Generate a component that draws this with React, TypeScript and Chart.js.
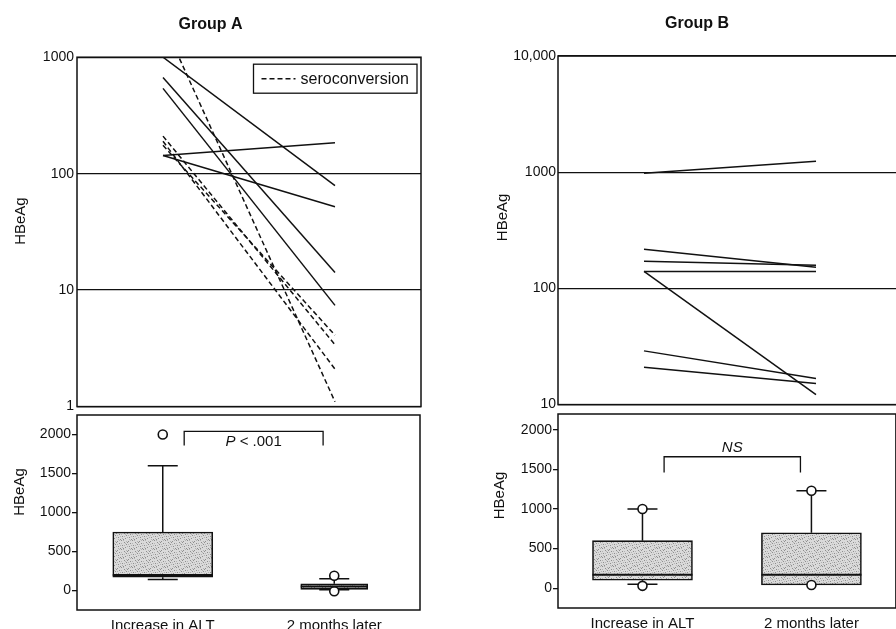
import React, { useEffect, useRef } from 'react';
import { Chart, registerables } from 'chart.js';

Chart.register(...registerables);

const FONT = '"Liberation Sans", Arial, Helvetica, sans-serif';
const INK = '#111111';

// ---------- data ----------
const timePoints = [1, 3];
const categories = ['Increase in ALT', '2 months later'];

// Group A: HBeAg at ALT increase and 2 months later (log panel)
const groupAStart = [1000, 670, 540, 143, 143, 2000, 210, 190, 175];
const groupAEnd = [79, 14.2, 7.4, 184, 52, 1.1, 3.4, 2.1, 4.1];
const groupASero = [false, false, false, false, false, true, true, true, true];

// Group B (log panel)
const groupBStart = [980, 217, 171, 140, 140, 29, 21];
const groupBEnd = [1240, 152, 158, 140, 12.2, 16.8, 15.2];

const logTicksA = [1, 10, 100, 1000];
const logTickLabelsA = ['1', '10', '100', '1000'];
const logTicksB = [10, 100, 1000, 10000];
const logTickLabelsB = ['10', '100', '1000', '10,000'];
const boxTicks = [0, 500, 1000, 1500, 2000];

// Box plot statistics (per time point)
const boxAMin = [140, 10];
const boxAQ1 = [170, 15];
const boxAMedian = [200, 50];
const boxAQ3 = [750, 85];
const boxAMax = [1600, 150];
const boxAPoints = [[2000], [190, -10]];

const boxBMin = [50, 40];
const boxBQ1 = [100, 40];
const boxBMedian = [170, 170];
const boxBQ3 = [600, 700];
const boxBMax = [1000, 1230];
const boxBPoints = [[1000, 30], [1230, 40]];

// ---------- plugins ----------
const framePlugin = {
  id: 'frame',
  afterDraw(chart: any) {
    const { ctx, chartArea: a } = chart;
    ctx.save();
    ctx.strokeStyle = INK;
    ctx.lineWidth = 1.5;
    ctx.strokeRect(a.left, a.top, a.right - a.left, a.bottom - a.top);
    ctx.restore();
  },
};

function yTitlePlugin(text: string, dx: number, fy: number) {
  return {
    id: 'yTitle',
    afterDraw(chart: any) {
      const { ctx, chartArea: a } = chart;
      ctx.save();
      ctx.translate(a.left - dx, a.top + (a.bottom - a.top) * fy);
      ctx.rotate(-Math.PI / 2);
      ctx.font = `15px ${FONT}`;
      ctx.fillStyle = INK;
      ctx.textAlign = 'center';
      ctx.textBaseline = 'middle';
      ctx.fillText(text, 0, 0);
      ctx.restore();
    },
  };
}

function legendPlugin(text: string) {
  return {
    id: 'seroLegend',
    afterDatasetsDraw(chart: any) {
      const { ctx, chartArea: a } = chart;
      ctx.save();
      ctx.font = `16px ${FONT}`;
      const tw = ctx.measureText(text).width;
      const w = 8 + 34 + 5 + tw + 8;
      const h = 29;
      const x = a.right - 4 - w;
      const y = a.top + 7;
      ctx.fillStyle = '#fff';
      ctx.fillRect(x, y, w, h);
      ctx.strokeStyle = INK;
      ctx.lineWidth = 1.3;
      ctx.strokeRect(x, y, w, h);
      ctx.lineWidth = 1.5;
      ctx.setLineDash([5, 3]);
      ctx.beginPath();
      ctx.moveTo(x + 8, y + h / 2);
      ctx.lineTo(x + 42, y + h / 2);
      ctx.stroke();
      ctx.setLineDash([]);
      ctx.fillStyle = INK;
      ctx.textAlign = 'left';
      ctx.textBaseline = 'middle';
      ctx.fillText(text, x + 47, y + h / 2 + 1);
      ctx.restore();
    },
  };
}

interface BoxStats {
  min: number[];
  q1: number[];
  median: number[];
  q3: number[];
  max: number[];
  widths: number[];
  capWidth: number;
  bracket: { from: number; to: number; top: number; drop: number; labelY: number; italic: string; rest: string };
}

function boxPlugin(s: BoxStats) {
  return {
    id: 'boxExtras',
    beforeDatasetsDraw(chart: any) {
      const { ctx } = chart;
      const xs = chart.scales.x;
      const ys = chart.scales.y;
      ctx.save();
      ctx.strokeStyle = INK;
      ctx.lineWidth = 1.5;
      timePoints.forEach((p, i) => {
        const x = xs.getPixelForValue(p);
        const c = s.capWidth / 2;
        ctx.beginPath();
        ctx.moveTo(x, ys.getPixelForValue(s.q3[i]));
        ctx.lineTo(x, ys.getPixelForValue(s.max[i]));
        ctx.moveTo(x - c, ys.getPixelForValue(s.max[i]));
        ctx.lineTo(x + c, ys.getPixelForValue(s.max[i]));
        if (s.min[i] < s.q1[i]) {
          ctx.moveTo(x, ys.getPixelForValue(s.q1[i]));
          ctx.lineTo(x, ys.getPixelForValue(s.min[i]));
          ctx.moveTo(x - c, ys.getPixelForValue(s.min[i]));
          ctx.lineTo(x + c, ys.getPixelForValue(s.min[i]));
        }
        ctx.stroke();
      });
      ctx.restore();
    },
    afterDatasetsDraw(chart: any) {
      const { ctx } = chart;
      const xs = chart.scales.x;
      const ys = chart.scales.y;
      ctx.save();
      ctx.strokeStyle = INK;
      ctx.lineWidth = 2;
      timePoints.forEach((p, i) => {
        const x = xs.getPixelForValue(p);
        const hw = s.widths[i] / 2;
        const y = ys.getPixelForValue(s.median[i]);
        ctx.beginPath();
        ctx.moveTo(x - hw, y);
        ctx.lineTo(x + hw, y);
        ctx.stroke();
      });
      // significance bracket
      const b = s.bracket;
      const x1 = xs.getPixelForValue(b.from);
      const x2 = xs.getPixelForValue(b.to);
      const yt = ys.getPixelForValue(b.top);
      const yd = ys.getPixelForValue(b.drop);
      ctx.lineWidth = 1.3;
      ctx.beginPath();
      ctx.moveTo(x1, yd);
      ctx.lineTo(x1, yt);
      ctx.lineTo(x2, yt);
      ctx.lineTo(x2, yd);
      ctx.stroke();
      const fItalic = `italic 15px ${FONT}`;
      const fNormal = `15px ${FONT}`;
      ctx.font = fItalic;
      const w1 = ctx.measureText(b.italic).width;
      ctx.font = fNormal;
      const w2 = b.rest ? ctx.measureText(b.rest).width : 0;
      const cx = (x1 + x2) / 2;
      const start = cx - (w1 + w2) / 2;
      const ly = ys.getPixelForValue(b.labelY);
      ctx.fillStyle = INK;
      ctx.textAlign = 'left';
      ctx.textBaseline = 'middle';
      ctx.font = fItalic;
      ctx.fillText(b.italic, start, ly);
      if (b.rest) {
        ctx.font = fNormal;
        ctx.fillText(b.rest, start + w1, ly);
      }
      ctx.restore();
    },
  };
}

function makePattern(ctx: CanvasRenderingContext2D) {
  const c = document.createElement('canvas');
  c.width = 11;
  c.height = 9;
  const p = c.getContext('2d')!;
  p.fillStyle = '#dadada';
  p.fillRect(0, 0, 11, 9);
  p.fillStyle = '#8e8e8e';
  [[0, 0], [7, 1], [3, 2], [9, 3], [5, 4], [1, 5], [8, 6], [4, 7], [10, 8], [2, 8], [6, 2]].forEach(([x, y]) =>
    p.fillRect(x, y, 1, 1)
  );
  p.fillStyle = '#b4b4b4';
  [[2, 0], [9, 0], [5, 1], [0, 3], [7, 4], [3, 5], [10, 5], [6, 6], [1, 7], [8, 8], [4, 3]].forEach(([x, y]) =>
    p.fillRect(x, y, 1, 1)
  );
  return ctx.createPattern(c, 'repeat') as CanvasPattern;
}

// ---------- configs ----------
function logConfig(
  title: string,
  starts: number[],
  ends: number[],
  sero: boolean[] | null,
  ticks: number[],
  labels: string[],
  axisWidth: number,
  titlePad: { top: number; bottom: number },
  padRight: number,
  tickPad: number,
  plugins: any[]
): any {
  return {
    type: 'line',
    data: {
      datasets: starts.map((s, i) => ({
        label: sero && sero[i] ? 'seroconversion' : 'no seroconversion',
        data: [
          { x: timePoints[0], y: s },
          { x: timePoints[1], y: ends[i] },
        ],
        borderColor: INK,
        borderWidth: 1.5,
        borderDash: sero && sero[i] ? [5, 3] : [],
        pointRadius: 0,
        fill: false,
        tension: 0,
      })),
    },
    options: {
      animation: false,
      responsive: false,
      events: [],
      layout: { padding: { left: 0, right: padRight, top: 0, bottom: 8 } },
      plugins: {
        legend: { display: false },
        tooltip: { enabled: false },
        title: {
          display: true,
          text: title,
          color: INK,
          font: { family: FONT, size: 16, weight: 'bold' },
          padding: titlePad,
        },
      },
      scales: {
        x: { type: 'linear', min: 0, max: 4, display: false },
        y: {
          type: 'logarithmic',
          min: ticks[0],
          max: ticks[ticks.length - 1],
          afterBuildTicks: (scale: any) => {
            scale.ticks = ticks.map((v) => ({ value: v }));
          },
          afterFit: (scale: any) => {
            scale.width = axisWidth;
          },
          ticks: {
            callback: (v: number) => labels[ticks.indexOf(v)] ?? '',
            color: INK,
            font: { family: FONT, size: 14 },
            padding: tickPad,
            autoSkip: false,
          },
          grid: { color: INK, lineWidth: 1.3, drawTicks: false },
          border: { display: false },
        },
      },
    },
    plugins,
  };
}

function boxConfig(
  pattern: CanvasPattern,
  q1: number[],
  q3: number[],
  widths: number[],
  points: number[][],
  yMin: number,
  yMax: number,
  axisWidth: number,
  padRight: number,
  plugins: any[]
): any {
  const boxSets = q1.map((lo, i) => ({
    type: 'bar',
    data: [{ x: timePoints[i], y: [lo, q3[i]] }],
    backgroundColor: pattern,
    borderColor: INK,
    borderWidth: 1.6,
    borderSkipped: false,
    barThickness: widths[i],
    grouped: false,
    order: 2,
  }));
  const pts: { x: number; y: number }[] = [];
  points.forEach((arr, i) => arr.forEach((v) => pts.push({ x: timePoints[i], y: v })));
  return {
    type: 'bar',
    data: {
      datasets: [
        ...boxSets,
        {
          type: 'scatter',
          data: pts,
          pointStyle: 'circle',
          pointRadius: 4.5,
          backgroundColor: '#ffffff',
          borderColor: INK,
          borderWidth: 1.6,
          order: 0,
        },
      ],
    },
    options: {
      animation: false,
      responsive: false,
      events: [],
      layout: { padding: { left: 0, right: padRight, top: 10, bottom: 0 } },
      plugins: { legend: { display: false }, tooltip: { enabled: false } },
      scales: {
        x: {
          type: 'linear',
          min: 0,
          max: 4,
          offset: false,
          afterBuildTicks: (scale: any) => {
            scale.ticks = timePoints.map((v) => ({ value: v }));
          },
          afterFit: (scale: any) => {
            scale.height = 22;
          },
          ticks: {
            callback: (v: number) => categories[timePoints.indexOf(v)] ?? '',
            color: INK,
            font: { family: FONT, size: 15 },
            padding: -1,
            autoSkip: false,
            maxRotation: 0,
          },
          grid: { display: false },
          border: { display: false },
        },
        y: {
          type: 'linear',
          min: yMin,
          max: yMax,
          afterBuildTicks: (scale: any) => {
            scale.ticks = boxTicks.map((v) => ({ value: v }));
          },
          afterFit: (scale: any) => {
            scale.width = axisWidth;
          },
          ticks: {
            callback: (v: number) => String(v),
            color: INK,
            font: { family: FONT, size: 14 },
            padding: 1,
            autoSkip: false,
          },
          grid: { drawOnChartArea: false, drawTicks: true, tickLength: 5, color: INK, lineWidth: 1.3 },
          border: { display: false },
        },
      },
    },
    plugins,
  };
}

export default function App() {
  const logA = useRef<HTMLCanvasElement>(null);
  const logB = useRef<HTMLCanvasElement>(null);
  const boxA = useRef<HTMLCanvasElement>(null);
  const boxB = useRef<HTMLCanvasElement>(null);

  useEffect(() => {
    const pattern = makePattern(boxA.current!.getContext('2d')!);
    const charts = [
      new Chart(
        logA.current!,
        logConfig('Group A', groupAStart, groupAEnd, groupASero, logTicksA, logTickLabelsA, 77,
          { top: 15, bottom: 23 }, 7, 3,
          [framePlugin, yTitlePlugin('HBeAg', 56, 0.469), legendPlugin('seroconversion')])
      ),
      new Chart(
        logB.current!,
        logConfig('Group B', groupBStart, groupBEnd, null, logTicksB, logTickLabelsB, 66,
          { top: 14, bottom: 22.8 }, 0, 2,
          [framePlugin, yTitlePlugin('HBeAg', 55, 0.463)])
      ),
      new Chart(
        boxA.current!,
        boxConfig(pattern, boxAQ1, boxAQ3, [100, 67], boxAPoints, -250, 2250, 77, 8, [
          framePlugin,
          yTitlePlugin('HBeAg', 57, 0.395),
          boxPlugin({
            min: boxAMin, q1: boxAQ1, median: boxAMedian, q3: boxAQ3, max: boxAMax,
            widths: [100, 67], capWidth: 30,
            bracket: { from: 1.25, to: 2.87, top: 2040, drop: 1860, labelY: 1900, italic: 'P', rest: ' < .001' },
          }),
        ])
      ),
      new Chart(
        boxB.current!,
        boxConfig(pattern, boxBQ1, boxBQ3, [100, 100], boxBPoints, -250, 2200, 66, 0, [
          framePlugin,
          yTitlePlugin('HBeAg', 58, 0.42),
          boxPlugin({
            min: boxBMin, q1: boxBQ1, median: boxBMedian, q3: boxBQ3, max: boxBMax,
            widths: [100, 100], capWidth: 30,
            bracket: { from: 1.256, to: 2.87, top: 1660, drop: 1460, labelY: 1775, italic: 'NS', rest: '' },
          }),
        ])
      ),
    ];
    return () => charts.forEach((c) => c.destroy());
  }, []);

  const abs = (left: number, top: number): React.CSSProperties => ({ position: 'absolute', left, top });

  return (
    <div style={{ position: 'fixed', left: 0, top: 0, width: 896, height: 629, overflow: 'hidden', background: '#fff' }}>
      <canvas ref={logA} width={428} height={418} style={{ ...abs(0, 0), width: 428, height: 418 }} />
      <canvas ref={logB} width={410} height={415} style={{ ...abs(492, 0), width: 410, height: 415 }} />
      <canvas ref={boxA} width={428} height={227} style={{ ...abs(0, 405), width: 428, height: 227 }} />
      <canvas ref={boxB} width={410} height={226} style={{ ...abs(492, 404), width: 410, height: 226 }} />
    </div>
  );
}
